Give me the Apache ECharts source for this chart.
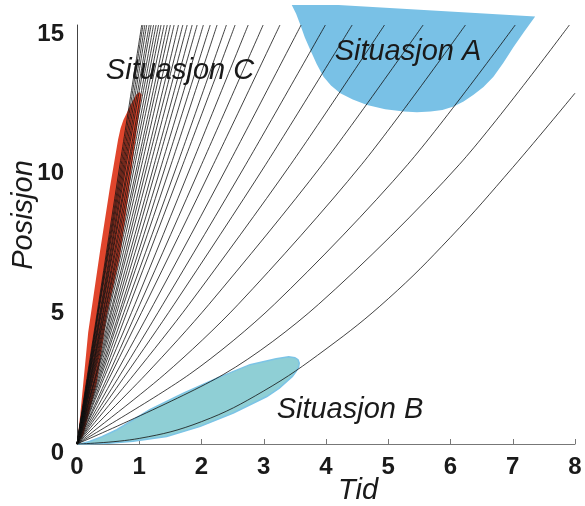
<!DOCTYPE html>
<html>
<head>
<meta charset="utf-8">
<script src="https://cdn.jsdelivr.net/npm/echarts@6/dist/echarts.min.js"></script>
<style>
html,body{margin:0;padding:0;background:#fff;}
#chart{width:585px;height:506px;}
</style>
</head>
<body>
<div id="chart"></div>
<script>
// Tick labels
const xTicks = [0, 1, 2, 3, 4, 5, 6, 7, 8];
const yTicks = [0, 5, 10, 15];

// Position levels at which each curve's crossing time was read
const levels = [0, 2.5, 5, 10, 15];
// crossing times (Tid) of curves 2..36 at each level
const tAt0   = [0,0,0,0,0,0,0,0,0,0,0,0,0,0,0,0,0,0,0,0,0,0,0,0,0,0,0,0,0,0,0,0,0,0,0];
const tAt2_5 = [2.36,1.81,1.41,1.11,0.92,0.79,0.70,0.62,0.55,0.51,0.46,0.43,0.40,0.38,0.36,0.34,0.32,0.31,0.30,0.28,0.27,0.26,0.25,0.24,0.23,0.23,0.22,0.21,0.20,0.20,0.19,0.19,0.18,0.18,0.17];
const tAt5   = [3.88,3.17,2.59,2.12,1.80,1.56,1.38,1.23,1.10,1.01,0.93,0.85,0.80,0.75,0.72,0.68,0.65,0.62,0.59,0.57,0.54,0.52,0.50,0.48,0.47,0.45,0.44,0.42,0.41,0.40,0.39,0.37,0.36,0.355,0.345];
const tAt10  = [6.14,5.31,4.57,3.94,3.43,3.03,2.71,2.43,2.19,2.00,1.84,1.70,1.61,1.51,1.43,1.36,1.29,1.24,1.18,1.13,1.09,1.04,1.00,0.97,0.93,0.90,0.87,0.84,0.82,0.79,0.77,0.75,0.73,0.71,0.69];
const tAt15  = [7.91,7.04,6.24,5.56,4.94,4.42,3.99,3.60,3.26,2.99,2.75,2.54,2.40,2.25,2.14,2.03,1.93,1.85,1.77,1.70,1.63,1.56,1.50,1.45,1.40,1.35,1.31,1.27,1.23,1.19,1.16,1.12,1.09,1.06,1.04];

// Lowest curve (exits at the right edge)
const c1Time = [0, 1, 2, 3, 4, 5, 6, 7, 8];
const c1Pos  = [0, 0.2, 0.8, 1.9, 3.4, 5.2, 7.4, 9.9, 12.56];

// Region A (blue)
const aTime = [3.45,4.20,7.36,7.18,7.01,6.85,6.69,6.53,6.37,6.21,6.05,5.87,5.68,5.46,5.25,4.95,4.66,4.43,4.23,4.08,3.96,3.85,3.75,3.66,3.59,3.52];
const aPos  = [15.72,15.72,15.3,14.75,14.2,13.65,13.15,12.78,12.5,12.26,12.08,11.96,11.9,11.88,11.9,11.98,12.14,12.33,12.56,12.83,13.15,13.6,14.1,14.55,14.99,15.4];

// Region B (teal)
const bTime = [0.02,0.5,0.9,1.44,1.98,2.51,3.05,3.25,3.37,3.46,3.52,3.56,3.57,3.55,3.50,3.40,3.20,2.78,2.25,1.71,1.17,0.64,0.40,0.20,0.08];
const bPos  = [0,0.03,0.1,0.27,0.63,1.11,1.70,2.00,2.24,2.42,2.6,2.76,2.9,3.02,3.09,3.12,3.05,2.84,2.36,1.82,1.23,0.51,0.26,0.09,0.02];

// Region C (red)
const cTime = [0,0.05,0.18,0.37,0.53,0.66,0.70,0.745,0.80,0.85,0.95,1.0,1.04,0.97,0.88,0.79,0.69,0.48,0.32,0.1];
const cPos  = [0,1.0,4.0,6.9,9.2,10.9,11.3,11.6,11.85,12.1,12.5,12.6,12.5,11.4,9.9,8.3,6.7,4.6,2.2,0.3];

const crossTables = [tAt0, tAt2_5, tAt5, tAt10, tAt15];

const chart = echarts.init(document.getElementById('chart'), null, {renderer: 'canvas'});

function regionSeries(ts, ps, fill, stroke, z) {
  return {
    type: 'custom',
    clip: false,
    silent: true,
    z: z,
    data: [[ts[0], ps[0]]],
    renderItem: function (params, api) {
      const pts = ts.map((t, i) => api.coord([t, ps[i]]));
      return {
        type: 'polygon',
        shape: {points: pts},
        style: {fill: fill, stroke: stroke || null, lineWidth: stroke ? 1.5 : 0}
      };
    }
  };
}

const series = [];
series.push(regionSeries(aTime, aPos, '#79c1e6', null, 1));
series.push(regionSeries(bTime, bPos, '#8fcfd5', '#7cc4e6', 1));
series.push(regionSeries(cTime, cPos, '#e0452c', null, 1));

const lineStyle = {color: '#111', width: 0.8};
series.push({
  type: 'line', z: 3, symbol: 'none', smooth: 0.4,
  data: c1Time.map((t, i) => [t, c1Pos[i]]),
  lineStyle: lineStyle, silent: true
});
for (let c = 0; c < tAt15.length; c++) {
  series.push({
    type: 'line', z: 3, symbol: 'none', smooth: 0.3,
    data: levels.map((y, j) => [crossTables[j][c], y]),
    lineStyle: lineStyle, silent: true
  });
}

const textStyleItalic = {fontFamily: 'Liberation Sans, Arial, sans-serif', fontStyle: 'italic', fontSize: 29, fill: '#1a1a1a'};

chart.setOption({
  animation: false,
  backgroundColor: '#fff',
  grid: {left: 77, right: 10, top: 25, bottom: 62},
  xAxis: {
    type: 'value', min: 0, max: 8, interval: 1,
    axisLine: {lineStyle: {color: '#777', width: 1}},
    axisTick: {show: true, inside: true, length: 5, lineStyle: {color: '#777'}},
    splitLine: {show: false},
    axisLabel: {
      margin: 11, fontSize: 24, fontWeight: 'bold', color: '#1a1a1a',
      fontFamily: 'Liberation Sans, Arial, sans-serif',
      formatter: v => xTicks.includes(v) ? String(v) : ''
    }
  },
  yAxis: {
    type: 'value', min: 0, max: 15, interval: 5,
    axisLine: {show: true, lineStyle: {color: '#444', width: 1}},
    axisTick: {show: false},
    splitLine: {show: false},
    axisLabel: {
      margin: 13, fontSize: 24, fontWeight: 'bold', color: '#1a1a1a',
      fontFamily: 'Liberation Sans, Arial, sans-serif',
      verticalAlign: 'top', lineHeight: 18,
      formatter: v => yTicks.includes(v) ? String(v) : ''
    }
  },
  graphic: [
    {type: 'text', z: 10, x: 408, y: 52, style: Object.assign({text: 'Situasjon A', align: 'center', verticalAlign: 'middle'}, textStyleItalic)},
    {type: 'text', z: 10, x: 180, y: 71, style: Object.assign({text: 'Situasjon C', align: 'center', verticalAlign: 'middle'}, textStyleItalic)},
    {type: 'text', z: 10, x: 350, y: 410, style: Object.assign({text: 'Situasjon B', align: 'center', verticalAlign: 'middle'}, textStyleItalic)},
    {type: 'text', z: 10, x: 358, y: 491, style: Object.assign({text: 'Tid', align: 'center', verticalAlign: 'middle'}, textStyleItalic)},
    {type: 'text', z: 10, x: 24, y: 215, rotation: Math.PI / 2, style: Object.assign({text: 'Posisjon', align: 'center', verticalAlign: 'middle'}, textStyleItalic)}
  ],
  series: series
});
</script>
</body>
</html>
